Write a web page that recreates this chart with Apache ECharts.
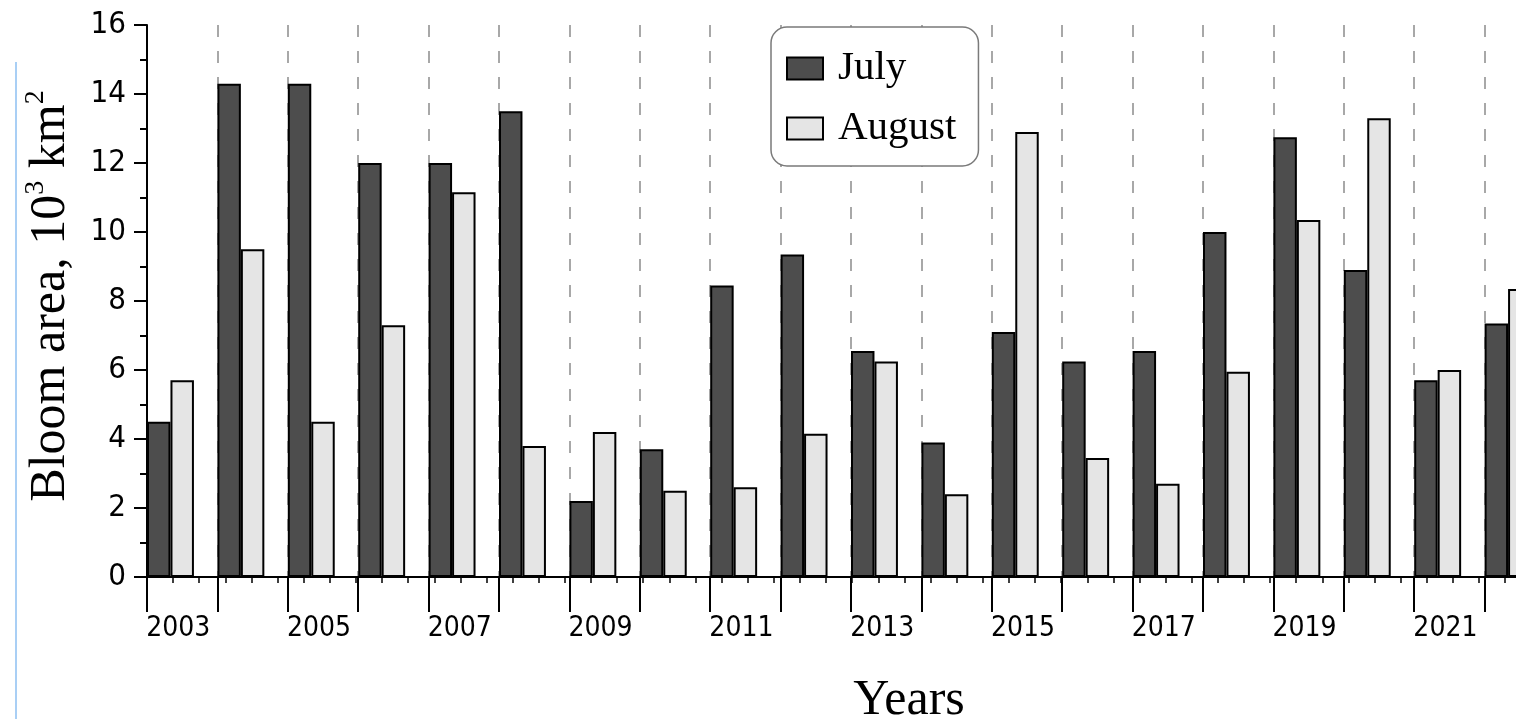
<!DOCTYPE html>
<html>
<head>
<meta charset="utf-8">
<title>Bloom area, July and August</title>
<script src="https://cdn.jsdelivr.net/npm/echarts@6/dist/echarts.min.js"></script>
<style>
  html, body { margin: 0; padding: 0; background: #ffffff; }
  #chart { width: 1516px; height: 719px; }
</style>
</head>
<body>
<div id="chart"></div>
<script>
// Years shown on the category axis
const years = ['2003', '2004', '2005', '2006', '2007', '2008', '2009', '2010', '2011', '2012',
               '2013', '2014', '2015', '2016', '2017', '2018', '2019', '2020', '2021', '2022'];

// Bloom area, thousand km²
const julyArea = [4.5, 14.3, 14.3, 12.0, 12.0, 13.5, 2.2, 3.7, 8.45, 9.35,
                  6.55, 3.9, 7.1, 6.25, 6.55, 10.0, 12.75, 8.9, 5.7, 7.35];
const augustArea = [5.7, 9.5, 4.5, 7.3, 11.15, 3.8, 4.2, 2.5, 2.6, 4.15,
                    6.25, 2.4, 12.9, 3.45, 2.7, 5.95, 10.35, 13.3, 6.0, 8.35];

// Y axis range and step
const yMin = 0, yMax = 16, yStep = 2;

const tickFont = "'DejaVu Sans Condensed', 'DejaVu Sans', sans-serif";
const serifFont = "'Liberation Serif', 'DejaVu Serif', serif";

const chart = echarts.init(document.getElementById('chart'), null, { renderer: 'canvas' });

const barBorder = { borderColor: '#000000', borderWidth: 2 };

chart.setOption({
  animation: false,
  backgroundColor: '#ffffff',
  grid: {
    left: 147, top: 25, height: 552, width: 1408,
    containLabel: false, outerBoundsMode: 'none'
  },
  graphic: [{
    type: 'line',
    shape: { x1: 16, y1: 62, x2: 16, y2: 719 },
    style: { stroke: '#a9cff5', lineWidth: 2 },
    silent: true
  }],
  legend: {
    left: 771, top: 27,
    orient: 'vertical',
    data: ['July', 'August'],
    icon: 'rect',
    itemWidth: 36, itemHeight: 22, itemGap: 19,
    padding: [21, 22, 17, 15],
    backgroundColor: '#ffffff',
    borderColor: '#7a7a7a', borderWidth: 1.5, borderRadius: 16,
    itemStyle: { borderColor: '#000000', borderWidth: 2 },
    textStyle: {
      fontFamily: serifFont, fontSize: 41, color: '#000000',
      padding: [0, 0, 0, 10]
    },
    selectedMode: false
  },
  xAxis: [{
    type: 'category',
    data: years,
    boundaryGap: true,
    name: 'Years',
    nameLocation: 'middle',
    nameGap: 99,
    nameTextStyle: {
      fontFamily: serifFont, fontSize: 50, color: '#000000',
      padding: [0, 0, 0, 116]
    },
    axisLine: { show: true, lineStyle: { color: '#000000', width: 2 } },
    axisTick: { show: true, interval: 0, length: 35, lineStyle: { color: '#000000', width: 2 } },
    axisLabel: {
      interval: 1, margin: 38,
      fontFamily: tickFont, fontSize: 28, color: '#000000',
      padding: [0, 8, 0, 0]
    },
    splitLine: {
      show: true, interval: 0,
      lineStyle: { color: '#8c8c8c', width: 1.5, type: [12, 14] }
    }
  }, {
    // secondary scale carrying the short ticks along the bottom
    type: 'value',
    position: 'bottom',
    min: 0, max: 20, interval: 0.371,
    axisLine: { show: false },
    axisTick: { show: true, length: 6, lineStyle: { color: '#000000', width: 1.5 } },
    axisLabel: { show: false },
    splitLine: { show: false }
  }],
  yAxis: {
    type: 'value',
    min: yMin, max: yMax, interval: yStep,
    name: 'Bloom area, 10{sup|3} km{sup|2}',
    nameLocation: 'middle',
    nameRotate: 90,
    nameGap: 65,
    nameTextStyle: {
      fontFamily: serifFont, fontSize: 50, color: '#000000', lineHeight: 58,
      padding: [0, 0, 0, 10],
      rich: {
        sup: { fontFamily: serifFont, fontSize: 28, color: '#000000', verticalAlign: 'top', lineHeight: 34 }
      }
    },
    axisLine: { show: true, lineStyle: { color: '#000000', width: 2 } },
    axisTick: { show: true, length: 13, lineStyle: { color: '#000000', width: 2 } },
    minorTick: { show: true, splitNumber: 2, length: 7, lineStyle: { color: '#000000', width: 2 } },
    axisLabel: { margin: 21, fontFamily: tickFont, fontSize: 31, color: '#000000' },
    splitLine: { show: false }
  },
  series: [{
    name: 'July',
    type: 'bar',
    xAxisIndex: 0,
    data: julyArea,
    barWidth: '33.3333%',
    barGap: '0%',
    itemStyle: Object.assign({ color: '#4d4d4d' }, barBorder),
    silent: true
  }, {
    name: 'August',
    type: 'bar',
    xAxisIndex: 0,
    data: augustArea,
    barWidth: '33.3333%',
    barGap: '0%',
    itemStyle: Object.assign({ color: '#e5e5e5' }, barBorder),
    silent: true
  }, {
    // empty slot: keeps the two bars in the left two thirds of each year
    name: 'spacer',
    type: 'bar',
    xAxisIndex: 0,
    data: [],
    barWidth: '33.3333%',
    barGap: '0%',
    silent: true
  }]
});
</script>
</body>
</html>
